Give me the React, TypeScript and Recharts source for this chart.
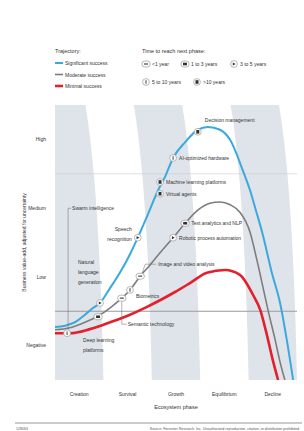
import React from 'react';
import { ComposedChart, Line, XAxis, YAxis, ReferenceArea, ReferenceLine, ReferenceDot } from 'recharts';

// phases along x (band centres at 0.5, 1.5 ...)
const phases = ['Creation', 'Survival', 'Growth', 'Equilibrium', 'Decline'];
const phaseTicks = [0.5, 1.5, 2.5, 3.5, 4.5];
const shadedBands = [[0, 1], [2, 3], [4, 5]];

const valueTicks = [-0.5, 0.5, 1.5, 2.5];
const valueLabels = ['Negative', 'Low', 'Medium', 'High'];

// trajectories: [phase, value]
const significant = [
  [0, -0.23], [0.21, -0.21], [0.41, -0.16], [0.62, -0.05], [0.79, 0.05], [0.93, 0.12],
  [1.14, 0.34], [1.34, 0.56], [1.55, 0.83], [1.71, 1.07], [1.92, 1.41], [2.13, 1.76],
  [2.27, 1.95], [2.44, 2.23], [2.69, 2.46], [2.95, 2.64], [3.16, 2.68], [3.41, 2.64],
  [3.62, 2.49], [3.88, 2.05], [4.03, 1.76], [4.15, 1.47], [4.28, 1.15], [4.48, 0.56],
  [4.65, 0.12], [4.79, -0.42], [4.92, -1],
];
const moderate = [
  [0, -0.27], [0.31, -0.24], [0.62, -0.16], [0.89, -0.07], [1.14, 0.05], [1.38, 0.19],
  [1.55, 0.31], [1.76, 0.51], [1.96, 0.67], [2.17, 0.85], [2.44, 1.07], [2.69, 1.28],
  [2.95, 1.47], [3.2, 1.57], [3.41, 1.59], [3.62, 1.55], [3.82, 1.44], [4.03, 1.15],
  [4.17, 0.75], [4.3, 0.34], [4.4, 0.02], [4.55, -0.42], [4.65, -0.74], [4.75, -1],
];
const minimal = [
  [0, -0.32], [0.31, -0.32], [0.72, -0.26], [1.14, -0.16], [1.55, -0.05], [1.86, 0.05],
  [2.17, 0.16], [2.48, 0.28], [2.79, 0.41], [3.14, 0.56], [3.51, 0.6], [3.82, 0.53],
  [4.09, 0.24], [4.24, 0.02], [4.38, -0.35], [4.5, -0.71], [4.61, -1],
];

const toRows = (pts: number[][]) => pts.map(([x, y]) => ({ x, y }));

// technologies: name, phase, value, time-to-next-phase icon
const techNames = [
  'Swarm intelligence', 'Natural language generation', 'Speech recognition',
  'Machine learning platforms', 'Virtual agents', 'AI-optimized hardware',
  'Decision management', 'Deep learning platforms', 'Semantic technology',
  'Biometrics', 'Image and video analysis', 'Robotic process automation',
  'Text analytics and NLP',
];
const techPhase = [0.25, 0.93, 1.71, 2.17, 2.17, 2.44, 2.95, 0.89, 1.38, 1.55, 1.76, 2.44, 2.69];
const techValue = [-0.32, 0.12, 1.07, 1.88, 1.71, 2.23, 2.61, -0.08, 0.19, 0.31, 0.51, 1.07, 1.28];
const techTime = ['5to10', '3to5', '3to5', '10plus', '10plus', '5to10', '10plus', '1to3', 'lt1', '5to10', 'lt1', '3to5', '1to3'];

const timeKeys = ['lt1', '1to3', '3to5', '5to10', '10plus'];
const timeLabels = ['<1 year', '1 to 3 years', '3 to 5 years', '5 to 10 years', '>10 years'];

const BLUE = '#3ba9dd';
const GRAY = '#7d7d7d';
const RED = '#e3202b';
const BAND = '#dfe4ea';
const TXT = '#333';
const FONT = '"Liberation Sans", Arial, sans-serif';

const Icon = ({ cx, cy, kind }: { cx: number; cy: number; kind: string }) => {
  const pill = kind === 'lt1' || kind === '1to3';
  return (
    <g>
      {pill ? (
        <rect x={cx - 4.2} y={cy - 3} width={8.4} height={6} rx={3} fill="#fff" stroke="#9a9a9a" strokeWidth={0.7} />
      ) : (
        <circle cx={cx} cy={cy} r={3.4} fill="#fff" stroke="#9a9a9a" strokeWidth={0.7} />
      )}
      {kind === 'lt1' && <rect x={cx - 2} y={cy - 0.8} width={4} height={1.6} fill="#777" />}
      {kind === '1to3' && <rect x={cx - 2} y={cy - 1.3} width={4} height={2.6} fill="#333" />}
      {kind === '3to5' && <path d={`M${cx - 1.2},${cy - 1.6} L${cx + 1.6},${cy} L${cx - 1.2},${cy + 1.6} Z`} fill="#333" />}
      {kind === '5to10' && <rect x={cx - 0.8} y={cy - 1.8} width={1.6} height={3.6} fill="#888" />}
      {kind === '10plus' && <rect x={cx - 1.5} y={cy - 1.8} width={3} height={3.6} fill="#333" />}
    </g>
  );
};

// label layout relative to the icon (px)
const labelLayout: Record<string, { dx: number; dy: number; anchor?: string; lines?: string[]; leader?: string }> = {
  'Swarm intelligence': { dx: 5, dy: -125, leader: 'M1,-3.5 V-125 H4' },
  'Natural language generation': { dx: -22, dy: -41, lines: ['Natural', 'language', 'generation'] },
  'Speech recognition': { dx: -6, dy: -9, anchor: 'end', lines: ['Speech', 'recognition'] },
  'Machine learning platforms': { dx: 6, dy: 0 },
  'Virtual agents': { dx: 6, dy: 0 },
  'AI-optimized hardware': { dx: 6, dy: 0 },
  'Decision management': { dx: 7, dy: -12 },
  'Deep learning platforms': { dx: -15, dy: 23, lines: ['Deep learning', 'platforms'] },
  'Semantic technology': { dx: 6, dy: 26, leader: 'M0,3.5 V26 H5' },
  'Biometrics': { dx: 6, dy: 6 },
  'Image and video analysis': { dx: 18, dy: -12, leader: 'M2,-3 L5,-12 H16' },
  'Robotic process automation': { dx: 6, dy: 0 },
  'Text analytics and NLP': { dx: 6, dy: 0 },
};

const TechMarker = (props: any) => {
  const { cx, cy, name, kind } = props;
  const lay = labelLayout[name];
  const lines = lay.lines || [name];
  return (
    <g>
      {lay.leader && <path d={lay.leader} transform={`translate(${cx},${cy})`} fill="none" stroke="#666" strokeWidth={0.5} />}
      <Icon cx={cx} cy={cy} kind={kind} />
      {lines.map((l, i) => (
        <text key={l} x={cx + lay.dx} y={cy + lay.dy + i * 10} textAnchor={lay.anchor || 'start'}
          dominantBaseline="central" fontSize={5} fill={TXT} fontFamily={FONT}>{l}</text>
      ))}
    </g>
  );
};

// phase band, bent to the left towards the top like the original
const Band = (props: any) => {
  const { x, y, width, height, first } = props;
  const L = x, R = x + width, T = y, B = y + height, s = 18;
  const c = T + 0.3 * height;
  const left = first ? `H${L} V${T}` : `H${L} Q${L - 4},${c} ${L - s},${T}`;
  const start = first ? L : L - s;
  const d = `M${start},${T} H${R - s} Q${R - 4},${c} ${R},${B} ${left} Z`;
  return <path d={d} fill={BAND} />;
};

const YLabel = (props: any) => {
  const vb = props.viewBox;
  const x = vb.x + 4;
  const y = vb.y + vb.height / 2;
  return (
    <text x={x} y={y} transform={`rotate(-90 ${x} ${y})`} textAnchor="middle" dominantBaseline="central"
      fontSize={5} fill={TXT} fontFamily={FONT}>Business value-add, adjusted for uncertainty</text>
  );
};

const trajectories = [
  { name: 'Significant success', color: BLUE, w: 2 },
  { name: 'Moderate success', color: GRAY, w: 1.6 },
  { name: 'Minimal success', color: RED, w: 2.6 },
];

const Overlay = () => (
  <svg width={304} height={431} style={{ position: 'absolute', left: 0, top: 0, pointerEvents: 'none' }} fontFamily={FONT}>
    <text x={55} y={51} fontSize={5.5} fill={TXT} dominantBaseline="central">Trajectory:</text>
    {trajectories.map((t, i) => (
      <g key={t.name}>
        <line x1={55} x2={63} y1={63 + i * 11.5} y2={63 + i * 11.5} stroke={t.color} strokeWidth={t.w} />
        <text x={65} y={63 + i * 11.5} fontSize={5} fill={TXT} dominantBaseline="central">{t.name}</text>
      </g>
    ))}
    <text x={142} y={51} fontSize={5.5} fill={TXT} dominantBaseline="central">Time to reach next phase:</text>
    {timeKeys.map((k, i) => {
      const pos = [[146, 64], [185, 64], [234, 64], [146, 82], [197, 82]][i];
      return (
        <g key={k}>
          <Icon cx={pos[0]} cy={pos[1]} kind={k} />
          <text x={pos[0] + 6} y={pos[1]} fontSize={5} fill={TXT} dominantBaseline="central">{timeLabels[i]}</text>
        </g>
      );
    })}
    <line x1={15} x2={302} y1={423} y2={423} stroke="#999" strokeWidth={1.2} />
    <text x={16} y={429} fontSize={3.6} fill="#555" dominantBaseline="central">128063</text>
    <text x={300} y={429} fontSize={3.6} fill="#555" textAnchor="end" dominantBaseline="central">
      Source: Forrester Research, Inc. Unauthorized reproduction, citation, or distribution prohibited.
    </text>
  </svg>
);

export default function App() {
  return (
    <div style={{ position: 'absolute', left: 0, top: 0, width: 304, height: 431, background: '#fff' }}>
      <ComposedChart width={304} height={431} margin={{ top: 105, right: 7, bottom: 22, left: 20 }}>
        <XAxis type="number" dataKey="x" domain={[0, 5]} ticks={phaseTicks} allowDataOverflow
          tickFormatter={(v: number) => phases[phaseTicks.indexOf(v)]} axisLine={false} tickLine={false}
          tickMargin={6} height={29} interval={0}
          tick={{ fontSize: 5, fill: TXT, fontFamily: FONT }}
          label={{ value: 'Ecosystem phase', position: 'insideBottom', offset: 0, fontSize: 5.5, fill: TXT, fontFamily: FONT }} />
        <YAxis type="number" domain={[-1, 3]} ticks={valueTicks} allowDataOverflow width={35}
          tickFormatter={(v: number) => valueLabels[valueTicks.indexOf(v)]} axisLine={false} tickLine={false}
          tickMargin={3} interval={0} tick={{ fontSize: 5, fill: TXT, fontFamily: FONT }}
          label={<YLabel />} />
        {shadedBands.map(([a, b], i) => (
          <ReferenceArea key={a} x1={a} x2={b} y1={-1} y2={3} ifOverflow="hidden" shape={(p: any) => <Band {...p} first={i === 0} />} />
        ))}
        <ReferenceLine y={2} stroke="#c9cdd2" strokeWidth={0.6} />
        <ReferenceLine y={0} stroke="#9a9a9a" strokeWidth={1} />
        <Line data={toRows(minimal)} dataKey="y" type="monotone" stroke={RED} strokeWidth={2.6} dot={false} isAnimationActive={false} />
        <Line data={toRows(moderate)} dataKey="y" type="monotone" stroke={GRAY} strokeWidth={1.6} dot={false} isAnimationActive={false} />
        <Line data={toRows(significant)} dataKey="y" type="monotone" stroke={BLUE} strokeWidth={2} dot={false} isAnimationActive={false} />
        {techNames.map((n, i) => (
          <ReferenceDot key={n} x={techPhase[i]} y={techValue[i]} ifOverflow="visible"
            shape={(p: any) => <TechMarker {...p} name={n} kind={techTime[i]} />} />
        ))}
      </ComposedChart>
      <Overlay />
    </div>
  );
}
